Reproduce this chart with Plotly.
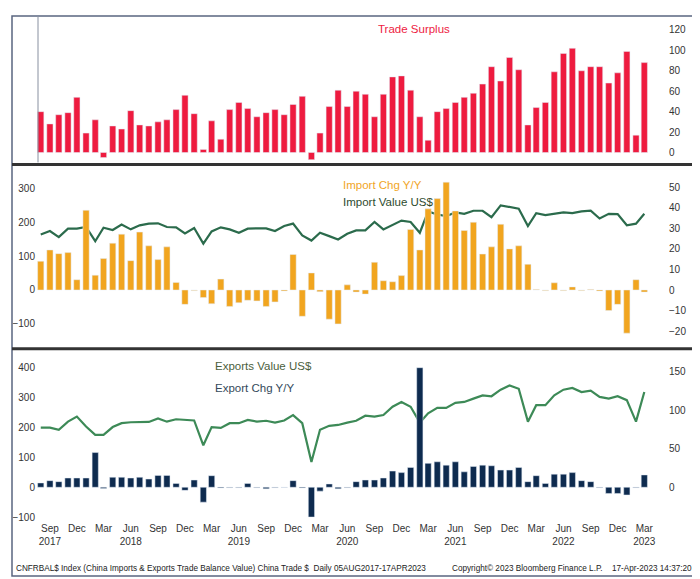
import pandas as pd
import plotly.graph_objects as go

months = pd.date_range("2017-08-01", periods=68, freq="MS")

trade_surplus = [40, 28, 37, 39, 54, 19, 32, -5, 26, 23, 41, 27, 26, 30, 32, 42, 56, 38, 3, 31,
                 13, 42, 49, 43, 35, 39, 42, 37, 47, 55, -7, 19, 45,
                 61, 45, 60, 57, 35, 57, 74, 75, 61, 35, 12, 40, 43, 49, 54, 58, 67, 84, 70, 93,
                 81, 27, 44, 49, 79, 97, 102, 80, 84, 84, 68, 78, 99, 17, 88]

import_chg = [14, 19.5, 17.7, 18.2, 5, 38.8, 7.2, 15.3, 22.8, 27.2, 14.3, 28.2, 21.5, 14.8, 21,
              3.7, -7, -0.3, -3.7, -6.7, 5.3, -8, -6.2, -5, -5.3, -8, -5.8, -0.5, 17.3, -12.8,
              8.3, -0.8, -14.2, -16.5,
              2.5, -1, -2, 13.5, 4.5, 4, 7, 29.5, 19.5, 39.5, 44.5, 52.5, 38.5, 29, 33, 17.5,
              21, 32, 20, 21.5, 12.5, 0.3, -0.3, 3.5, -0.3, 1.5, -0.3, 0.3, -0.5, -10, -7,
              -21, 5, -1]

import_value = [164, 174, 156, 181, 181, 186, 144, 184, 177, 193, 179, 191, 196, 197, 186, 185,
                167, 183, 137, 173, 185, 179, 169, 181, 182, 182, 174, 189, 196, 161, 146, 169,
                159, 149,
                166, 176, 176, 201, 179, 191, 205, 201, 169, 232, 223, 218, 229, 225, 234, 234,
                215, 250, 244, 240, 189, 227, 221, 225, 229, 227, 232, 234, 211, 225, 224, 191,
                196, 225]

export_chg = [5.6, 8.6, 7.3, 12, 12, 12, 45, -1.5, 13, 13, 12, 13, 10.7, 15.4, 15.4, 5, -4,
              9.4, -19.3, 15, -1, -0.5, -0.5, 5, -0.5, -2, -0.5, -0.3, 8.6, -1, -38.6, -5, 4.3,
              -2,
              -0.5, 7.3, 9.4, 9.4, 12, 21, 19, 25.7, 155, 31, 33, 28.7, 33, 20, 27, 28.7, 27.9,
              22.3, 22.3, 25.7, 7.3, 15, 5, 17, 17, 19, 8.6, 7.3, -0.5, -8, -8, -10, -0.5, 16]

export_value = [200, 200, 193, 220, 237, 204, 176, 176, 202, 215, 218, 218, 219, 231, 220, 228,
                226, 224, 141, 202, 199, 215, 215, 226, 220, 223, 217, 224, 242, 215, 85, 193,
                206, 209,
                217, 223, 240, 237, 242, 270, 286, 270, 217, 248, 266, 266, 283, 286, 297, 308,
                305, 327, 341, 330, 220, 275, 275, 308, 327, 333, 319, 324, 303, 297, 305, 292,
                220, 319]

tick_dates = pd.date_range("2017-09-01", "2023-03-01", freq="3MS")
tick_text = []
for d in tick_dates:
    lab = d.strftime("%b")
    if (d.year == 2017 and d.month == 9) or (d.month == 6 and 2018 <= d.year <= 2022) or (d.year == 2023 and d.month == 3):
        lab += "<br>" + str(d.year)
    tick_text.append(lab)

FONT = "Liberation Sans, Arial, sans-serif"
RED = "#ee1b3f"
ORANGE = "#f1a51f"
DKGREEN = "#2b6b4c"
GREEN = "#3d8a57"
NAVY = "#0e2b4f"
W = 0.7 * 30 * 24 * 3600 * 1000

fig = go.Figure()
fig.add_bar(x=months, y=trade_surplus, marker_color=RED, width=W, xaxis="x", yaxis="y5")
fig.add_bar(x=months, y=import_chg, marker_color=ORANGE, width=W, xaxis="x", yaxis="y4")
fig.add_scatter(x=months, y=import_value, mode="lines", line=dict(color=DKGREEN, width=2.2),
                xaxis="x", yaxis="y3")
fig.add_bar(x=months, y=export_chg, marker_color=NAVY, width=W, xaxis="x", yaxis="y2")
fig.add_scatter(x=months, y=export_value, mode="lines", line=dict(color=GREEN, width=2.2),
                xaxis="x", yaxis="y")

H = 579.0
def fy(px):
    return (H - px) / H

tick_font = dict(family=FONT, size=10, color="#333")
common = dict(showgrid=False, zeroline=False, ticks="", tickfont=tick_font, showline=False)

fig.update_layout(
    width=700, height=579, showlegend=False, barmode="overlay",
    margin=dict(l=28, r=40, t=0, b=0),
    plot_bgcolor="white", paper_bgcolor="white",
    font=dict(family=FONT),
    xaxis=dict(anchor="y", range=[pd.Timestamp("2017-07-16"), pd.Timestamp("2023-05-20")],
               tickvals=tick_dates, ticktext=tick_text, **common),
    yaxis=dict(domain=[fy(515), fy(347)], range=[-113, 447], side="left",
               tickvals=[-100, 0, 100, 200, 300, 400], **common),
    yaxis2=dict(overlaying="y", side="right", range=[-44, 173],
                tickvals=[-50, 0, 50, 100, 150], **common),
    yaxis3=dict(domain=[fy(338), fy(162)], anchor="x", range=[-162, 356], side="left",
                tickvals=[-100, 0, 100, 200, 300], **common),
    yaxis4=dict(overlaying="y3", side="right", range=[-26.7, 58.7],
                tickvals=[-20, -10, 0, 10, 20, 30, 40, 50], **common),
    yaxis5=dict(domain=[fy(157), fy(10)], anchor="x", range=[-11.7, 131.7], side="right",
                tickvals=[0, 20, 40, 60, 80, 100, 120], **common),
)

plot_w = 700 - 28 - 40
def pxp(x):
    return (x - 28) / plot_w

shapes = []
shapes.append(dict(type="rect", xref="paper", yref="paper", x0=pxp(4), x1=pxp(689),
                   y0=fy(570), y1=fy(8), line=dict(color="#5a6580", width=1.5)))
for yy in (157, 342):
    shapes.append(dict(type="line", xref="paper", yref="paper", x0=pxp(4), x1=pxp(689),
                       y0=fy(yy), y1=fy(yy), line=dict(color="#333", width=3)))
shapes.append(dict(type="line", xref="paper", yref="paper", x0=pxp(30), x1=pxp(30),
                   y0=fy(155), y1=fy(8), line=dict(color="#8890a0", width=1)))
fig.update_layout(shapes=shapes)

def ann(text, x, y, color, size=11.5, anchor="left"):
    fig.add_annotation(text=text, xref="paper", yref="paper", x=pxp(x), y=fy(y),
                       xanchor=anchor, yanchor="middle", showarrow=False,
                       font=dict(family=FONT, size=size, color=color))

ann("Trade Surplus", 368, 21, RED)
ann("Import Chg Y/Y", 333, 178, ORANGE)
ann("Import Value US$", 333, 195, "#2e4a2e")
ann("Exports Value US$", 205, 359, "#4b5e3c")
ann("Export Chg Y/Y", 205, 381, "#34495a")
ann("CNFRBAL$ Index (China Imports & Exports Trade Balance Value) China Trade $  Daily 05AUG2017-17APR2023",
    6, 562, "#222", size=8.2)
ann("Copyright© 2023 Bloomberg Finance L.P.", 442, 562, "#222", size=8.2)
ann("17-Apr-2023 14:37:20", 686, 562, "#222", size=8.2, anchor="right")

fig.write_html("out.html")
